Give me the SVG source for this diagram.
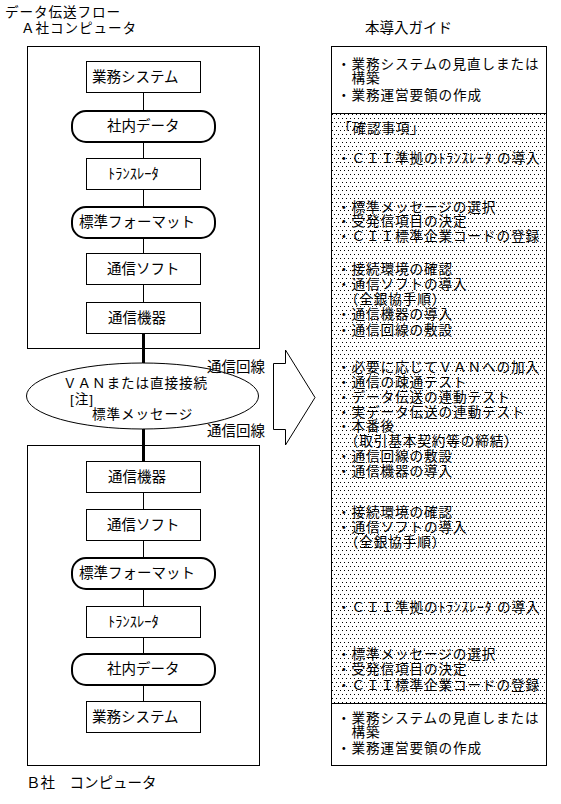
<svg xmlns="http://www.w3.org/2000/svg" width="561" height="804" viewBox="0 0 561 804">
<defs>
<pattern id="dots" x="331" y="113" width="4" height="8" patternUnits="userSpaceOnUse">
<rect x="1" y="1" width="1" height="1" fill="#000"/>
<rect x="3" y="5" width="1" height="1" fill="#000"/>
</pattern>
<style>
text{font-family:"Noto Sans CJK JP","Noto Sans CJK SC",sans-serif;font-size:14.5px;fill:#000}
#guide text,text.tight{font-family:"Liberation Sans","Noto Sans CJK JP",sans-serif;font-size:13.6px;letter-spacing:0.9px}
.box{fill:#fff;stroke:#000;stroke-width:1}
.rnd{fill:#fff;stroke:#000;stroke-width:2}
.frame{fill:none;stroke:#000;stroke-width:1}
.thin{stroke:#000;stroke-width:1;fill:none}
.thick{stroke:#000;stroke-width:3;fill:none}
</style>
</defs>
<rect width="561" height="804" fill="#fff"/>
<text class="tight" x="5" y="17">データ伝送フロー<tspan x="21" y="33">Ａ社コンピュータ</tspan></text>
<text x="365" y="33">本導入ガイド</text>
<g id="frameA"><rect class="frame" x="27.5" y="46.5" width="232" height="302"/></g>
<g id="frameB"><rect class="frame" x="27.5" y="445.5" width="232" height="320"/></g>
<g id="connectors">
<line class="thin" x1="143.5" y1="93" x2="143.5" y2="110"/>
<line class="thin" x1="143.5" y1="142" x2="143.5" y2="158"/>
<line class="thin" x1="143.5" y1="189" x2="143.5" y2="206"/>
<line class="thin" x1="143.5" y1="238" x2="143.5" y2="253"/>
<line class="thin" x1="143.5" y1="285" x2="143.5" y2="302"/>
<line class="thick" x1="143.5" y1="333" x2="143.5" y2="363"/>
<line class="thick" x1="143.5" y1="429" x2="143.5" y2="461"/>
<line class="thin" x1="143.5" y1="493" x2="143.5" y2="509"/>
<line class="thin" x1="143.5" y1="541" x2="143.5" y2="557"/>
<line class="thin" x1="143.5" y1="590" x2="143.5" y2="606"/>
<line class="thin" x1="143.5" y1="637" x2="143.5" y2="653"/>
<line class="thin" x1="143.5" y1="686" x2="143.5" y2="701"/>
</g>
<g id="a-gyomu"><rect class="box" x="86.5" y="61.5" width="114" height="31"/><text x="92" y="82">業務システム</text></g>
<g id="a-shanai"><rect class="rnd" x="72" y="111" width="143" height="31" rx="14" ry="14"/><text x="107" y="131">社内データ</text></g>
<g id="a-trans"><rect class="box" x="86.5" y="158.5" width="114" height="31"/><text x="108" y="179">ﾄﾗﾝｽﾚｰﾀ</text></g>
<g id="a-hyojun"><rect class="rnd" x="72" y="207" width="143" height="31" rx="14" ry="14"/><text x="79" y="227">標準フォーマット</text></g>
<g id="a-soft"><rect class="box" x="86.5" y="253.5" width="114" height="31"/><text x="107" y="274">通信ソフト</text></g>
<g id="a-kiki"><rect class="box" x="86.5" y="302.5" width="114" height="31"/><text x="108" y="323">通信機器</text></g>
<g id="van">
<ellipse class="box" cx="142.5" cy="396" rx="116" ry="33"/>
<text class="tight" x="63" y="388">ＶＡＮまたは直接接続<tspan x="70" y="404">[注]</tspan><tspan x="92" y="419">標準メッセージ</tspan></text>
</g>
<text x="207" y="372">通信回線</text>
<text x="207" y="436">通信回線</text>
<g id="arrow"><polygon class="box" points="273.5,363.5 285.5,363.5 285.5,350 315,397.5 285.5,445 285.5,429.5 273.5,429.5"/></g>
<g id="b-kiki"><rect class="box" x="86.5" y="461.5" width="114" height="31"/><text x="108" y="482">通信機器</text></g>
<g id="b-soft"><rect class="box" x="86.5" y="509.5" width="114" height="31"/><text x="107" y="530">通信ソフト</text></g>
<g id="b-hyojun"><rect class="rnd" x="72" y="558" width="143" height="31" rx="14" ry="14"/><text x="79" y="578">標準フォーマット</text></g>
<g id="b-trans"><rect class="box" x="86.5" y="606.5" width="114" height="31"/><text x="108" y="627">ﾄﾗﾝｽﾚｰﾀ</text></g>
<g id="b-shanai"><rect class="rnd" x="72" y="654" width="143" height="31" rx="14" ry="14"/><text x="107" y="674">社内データ</text></g>
<g id="b-gyomu"><rect class="box" x="86.5" y="701.5" width="114" height="31"/><text x="92" y="722">業務システム</text></g>
<text x="26" y="788">Ｂ社　コンピュータ</text>
<g id="guide">
<rect x="331" y="113" width="216" height="590" fill="url(#dots)"/>
<rect class="frame" x="331.5" y="46.5" width="215" height="719"/>
<line class="thin" x1="331" y1="113.5" x2="547" y2="113.5"/>
<line class="thin" x1="331" y1="703.5" x2="547" y2="703.5"/>
<text x="337" y="69">・業務システムの見直しまたは<tspan x="337" y="83">　構築</tspan><tspan x="337" y="100">・業務運営要領の作成</tspan></text>
<text x="338" y="133">「確認事項」</text>
<text x="337" y="163">・ＣＩＩ準拠のﾄﾗﾝｽﾚｰﾀ の導入</text>
<text x="337" y="212">・標準メッセージの選択<tspan x="337" y="226">・受発信項目の決定</tspan><tspan x="337" y="241">・ＣＩＩ標準企業コードの登録</tspan></text>
<text x="337" y="274">・接続環境の確認<tspan x="337" y="289">・通信ソフトの導入</tspan><tspan x="337" y="304">　（全銀協手順）</tspan><tspan x="337" y="319">・通信機器の導入</tspan><tspan x="337" y="335">・通信回線の敷設</tspan></text>
<text x="337" y="372">・必要に応じてＶＡＮへの加入<tspan x="337" y="387">・通信の疎通テスト</tspan><tspan x="337" y="402">・データ伝送の連動テスト</tspan><tspan x="337" y="417">・実データ伝送の連動テスト</tspan><tspan x="337" y="431">・本番後</tspan><tspan x="337" y="446">　（取引基本契約等の締結）</tspan><tspan x="337" y="461">・通信回線の敷設</tspan><tspan x="337" y="476">・通信機器の導入</tspan></text>
<text x="337" y="517">・接続環境の確認<tspan x="337" y="532">・通信ソフトの導入</tspan><tspan x="337" y="547">　（全銀協手順）</tspan></text>
<text x="337" y="612">・ＣＩＩ準拠のﾄﾗﾝｽﾚｰﾀ の導入</text>
<text x="337" y="659">・標準メッセージの選択<tspan x="337" y="674">・受発信項目の決定</tspan><tspan x="337" y="690">・ＣＩＩ標準企業コードの登録</tspan></text>
<text x="337" y="723">・業務システムの見直しまたは<tspan x="337" y="737">　構築</tspan><tspan x="337" y="753">・業務運営要領の作成</tspan></text>
</g>
</svg>
